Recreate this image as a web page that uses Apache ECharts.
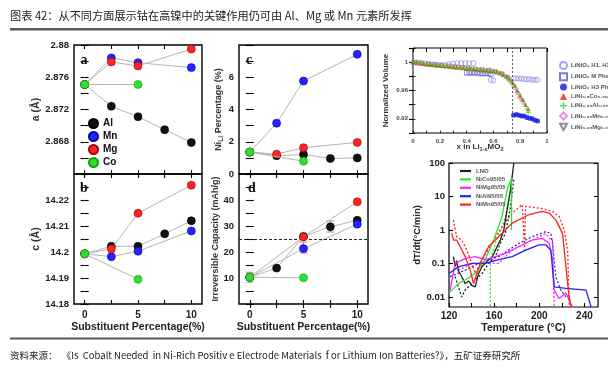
<!DOCTYPE html>
<html><head><meta charset="utf-8">
<script src="https://cdn.jsdelivr.net/npm/echarts@6/dist/echarts.min.js"></script>
<style>html,body{margin:0;padding:0;background:#fff}#c{width:608px;height:371px}</style>
</head><body><div id="c"></div>
<script>
// ---------- data ----------
const substTicks = [0, 2.5, 5, 7.5, 10];
const substLabels = [0, 5, 10];
// panel a: lattice parameter a (Å)
const aAl = [[0,2.8751],[2.5,2.8724],[5,2.8711],[7.5,2.8695],[10,2.8679]];
const aMn = [[0,2.8751],[2.5,2.8784],[5,2.8778],[10,2.8772]];
const aMg = [[0,2.8751],[2.5,2.8779],[5,2.8774],[10,2.8795]];
const aCo = [[0,2.8751],[5,2.8751]];
// panel b: lattice parameter c (Å)
const bAl = [[0,14.1993],[2.5,14.2022],[5,14.2022],[7.5,14.207],[10,14.212]];
const bMn = [[0,14.1993],[2.5,14.1982],[5,14.2003],[10,14.2081]];
const bMg = [[0,14.1993],[2.5,14.2012],[5,14.2149],[10,14.2257]];
const bCo = [[0,14.1993],[5,14.1895]];
// panel c: Ni_Li percentage (%)
const cAl = [[0,1.36],[2.5,1.13],[5,1.21],[7.5,0.96],[10,1.0]];
const cMn = [[0,1.36],[2.5,3.15],[5,5.77],[10,7.42]];
const cMg = [[0,1.36],[2.5,1.23],[5,1.63],[10,1.96]];
const cCo = [[0,1.36],[5,0.79]];
// panel d: irreversible capacity (mAh/g)
const dAl = [[0,10.3],[2.5,13.8],[5,26.0],[7.5,29.7],[10,32.2]];
const dMn = [[0,10.3],[5,21.3],[10,30.7]];
const dMg = [[0,10.3],[5,25.8],[10,39.3]];
const dCo = [[0,10.3],[5,10.1]];
const dErr = [[0,8.4,12.2],[5,19.6,23.8],[7.5,27.7,31.9]];
const dRef = 25;
// panel e: normalized volume vs x in Li(1-x)MO2
const eH12 = [[0,1.0],[0.03,0.9995],[0.06,0.999],[0.09,0.998],[0.12,0.997],[0.15,0.997],[0.18,0.996],[0.21,0.996],[0.24,0.996],[0.27,0.997],[0.30,0.998],[0.33,0.9985],[0.36,0.9985],[0.39,0.9985],[0.42,0.9985],[0.45,0.9985],[0.58,0.975],[0.60,0.974],[0.75,0.977],[0.77,0.977],[0.79,0.977],[0.81,0.977],[0.83,0.976],[0.85,0.976],[0.87,0.976],[0.89,0.975],[0.91,0.975],[0.93,0.975]];
const eM = [[0.40,0.985],[0.42,0.985],[0.44,0.985],[0.46,0.985],[0.48,0.985],[0.50,0.984],[0.52,0.984],[0.54,0.984],[0.56,0.984],[0.58,0.983]];
const eH3 = [[0.75,0.925],[0.77,0.926],[0.79,0.925],[0.81,0.924],[0.83,0.924],[0.85,0.922],[0.87,0.921],[0.89,0.920],[0.91,0.918],[0.93,0.917]];
const eNCA = [[0,1.0],[0.025,0.9995],[0.05,0.999],[0.075,0.998],[0.1,0.9975],[0.125,0.997],[0.15,0.9965],[0.175,0.996],[0.2,0.9955],[0.225,0.995],[0.25,0.9945],[0.275,0.994],[0.3,0.9935],[0.325,0.993],[0.35,0.9925],[0.375,0.992],[0.4,0.9915],[0.425,0.991],[0.45,0.9905],[0.475,0.990],[0.5,0.9895],[0.525,0.989],[0.55,0.9885],[0.575,0.988],[0.6,0.9875],[0.625,0.9865],[0.65,0.985],[0.675,0.983],[0.7,0.980],[0.72,0.977],[0.74,0.973],[0.76,0.967],[0.78,0.960],[0.80,0.953],[0.82,0.947],[0.84,0.940],[0.86,0.934]];
const eNA = [[0.01,0.9995],[0.035,0.999],[0.06,0.998],[0.085,0.9975],[0.11,0.997],[0.135,0.9965],[0.16,0.996],[0.185,0.9955],[0.21,0.995],[0.235,0.994],[0.26,0.9935],[0.285,0.993],[0.31,0.9925],[0.335,0.992],[0.36,0.9915],[0.385,0.991],[0.41,0.9905],[0.435,0.990],[0.46,0.9895],[0.485,0.989],[0.51,0.9885],[0.535,0.988],[0.56,0.9875],[0.585,0.987],[0.61,0.986],[0.635,0.9845],[0.66,0.983],[0.685,0.980],[0.71,0.977],[0.73,0.973],[0.75,0.968],[0.77,0.962],[0.79,0.955],[0.81,0.948],[0.83,0.941],[0.85,0.934],[0.86,0.929]];
const eNM = [[0.02,0.999],[0.045,0.9985],[0.07,0.998],[0.095,0.9975],[0.12,0.997],[0.145,0.9965],[0.17,0.996],[0.195,0.9955],[0.22,0.995],[0.245,0.9945],[0.27,0.994],[0.295,0.9935],[0.32,0.993],[0.345,0.9925],[0.37,0.992],[0.395,0.9915],[0.42,0.991],[0.445,0.990],[0.47,0.9895],[0.495,0.989],[0.52,0.9885],[0.545,0.988],[0.57,0.9875],[0.595,0.987],[0.62,0.986],[0.645,0.984],[0.67,0.982],[0.695,0.979],[0.715,0.975],[0.735,0.970],[0.755,0.964],[0.775,0.957],[0.795,0.950],[0.815,0.945]];
const eNMg = [[0.015,0.9993],[0.065,0.998],[0.115,0.997],[0.165,0.996],[0.215,0.995],[0.265,0.994],[0.315,0.993],[0.365,0.992],[0.415,0.991],[0.465,0.990],[0.515,0.989],[0.565,0.988],[0.615,0.986],[0.665,0.983],[0.705,0.978]];
const eSplit = 0.74;
// panel f: dT/dt (°C/min) vs temperature (°C)
const fLNO = [[123.9,0.16],[125.4,0.08],[126.8,0.12],[128.3,0.06],[131.3,0.04],[134.3,0.025],[137.3,0.03],[140.2,0.022],[143.2,0.02],[146.2,0.05],[149.2,0.08],[155.1,0.13],[158.1,0.15],[161.1,0.25],[165.5,0.5],[168.5,1.0],[171.5,4.0],[174.5,15.9],[177.4,100]];
const fLNOd = [[125.4,0.04],[128.3,0.02],[131.3,0.01],[134.3,0.016],[137.3,0.02],[140.2,0.025],[143.2,0.032],[149.2,0.05],[155.1,0.1],[161.1,0.16],[165.5,0.4],[170,0.79],[174.5,5.06],[177.4,31.7]];
const fCo = [[120,0.013],[125.4,0.02],[128.3,0.025],[134.3,0.032],[143.2,0.05],[152.1,0.13],[159.6,0.5],[167,2.54],[171.5,15.9],[175.4,35.6],[175.4,1.0]];
const fCod = [[156.6,0.004],[156.6,0.13],[161.1,0.4],[167,1.28],[170,2.54],[174.5,15.9],[176,40],[177,63]];
const fMg = [[121,0.016],[125.4,0.1],[134.3,0.14],[143.2,0.16],[152.1,0.13],[161.1,0.16],[170,0.2],[181.9,0.32],[193.8,0.5],[202.7,0.56],[208.7,0.4],[211.7,0.13],[213.2,0.016],[217.6,0.0089],[223.6,0.013],[229.5,0.005]];
const fMgd = [[128.3,0.063],[140.2,0.1],[152.1,0.1],[164,0.1],[176,0.25],[187.9,0.4],[199.8,0.63],[205.7,0.79],[208.7,0.56],[211.7,0.5],[213.2,0.004]];
const fAl = [[120,0.05],[128.3,0.079],[140.2,0.1],[152.1,0.1],[164,0.13],[176,0.16],[187.9,0.25],[199.8,0.36],[205.7,0.36],[210.2,0.25],[213.2,0.02],[223.6,0.018],[241.4,0.016],[245.9,0.005]];
const fAld = [[121,0.04],[134.3,0.063],[146.2,0.1],[164,0.16],[181.9,0.4],[193.8,0.63],[205.7,0.89],[210.2,0.79],[211.7,0.4],[214.6,0.04],[219.1,0.016],[223.6,0.01]];
const fMn = [[122.4,0.8],[123.9,0.5],[126.8,0.5],[129.8,0.32],[134.3,0.16],[138.8,0.063],[141.7,0.025],[144.7,0.05],[149.2,0.13],[155.1,0.32],[164,0.63],[176,1.6],[190.8,2.85],[202.7,3.6],[208.7,3.2],[214.6,2.0],[220.6,0.79],[223.6,0.079],[226,0.013],[228,0.005]];
const fMnd = [[123.9,2.0],[126.8,0.63],[131.3,0.5],[135.8,0.25],[140.2,0.1],[143.2,0.05],[149.2,0.13],[158.1,0.4],[167,1.28],[176,3.2],[184.9,5.7],[187,0.25],[187.9,5.06],[199.8,4.5],[211.7,3.6],[217.6,2.54],[222.1,1.0],[225.1,0.25],[226.5,0.005]];

// ---------- helpers ----------
const FONT = '"Liberation Sans", Arial, sans-serif';
const COL = {Al:'#111111', Mn:'#2424ff', Mg:'#ff2424', Co:'#2ee02e'};
const EDGE = {Al:'#000', Mn:'#0000a0', Mg:'#a00000', Co:'#10a010'};
const grids = [
  {left:74, top:45, width:128, height:129},
  {left:74, top:174, width:128, height:130},
  {left:239, top:45, width:129, height:129},
  {left:239, top:174, width:129, height:130},
  {left:413, top:48, width:134, height:85},
  {left:449, top:163, width:149, height:144}
].map(g => Object.assign({show:true, borderColor:'#000', borderWidth:1.4, backgroundColor:'transparent'}, g));
grids[4].borderWidth = 1; grids[5].borderWidth = 1.2;

const tickStyle = {color:'#000', width:1.1};
function pctX(gi, showLabels, name) {
  return {type:'value', gridIndex:gi, min:-1, max:11, position:'bottom',
    axisLine:{show:false}, splitLine:{show:false},
    axisTick:{show:true, inside:true, length:4, customValues:substTicks, lineStyle:tickStyle},
    axisLabel:{show:showLabels, customValues:substLabels, fontFamily:FONT, fontWeight:'bold', fontSize:10, color:'#222', margin:6},
    name:name||'', nameLocation:'middle', nameGap:18,
    nameTextStyle:{fontFamily:FONT, fontWeight:'bold', fontSize:10.5, color:'#222'}};
}
function mirrorX(gi, min, max, ticks) {
  return {type:'value', gridIndex:gi, min, max, position:'top',
    axisLine:{show:false}, splitLine:{show:false}, axisLabel:{show:false},
    axisTick:{show:true, inside:true, length:4, customValues:ticks, lineStyle:tickStyle}};
}
function mirrorY(gi, min, max, ticks) {
  return {type:'value', gridIndex:gi, min, max, position:'right',
    axisLine:{show:false}, splitLine:{show:false}, axisLabel:{show:false},
    axisTick:{show:true, inside:true, length:4, customValues:ticks, lineStyle:tickStyle}};
}
function valY(gi, min, max, ticks, labels, name, gap, nameSize) {
  return {type:'value', gridIndex:gi, min, max,
    axisLine:{show:false}, splitLine:{show:false},
    axisTick:{show:true, inside:true, length:4, customValues:ticks, lineStyle:tickStyle},
    axisLabel:{customValues:labels, fontFamily:FONT, fontWeight:'bold', fontSize:9.5, color:'#222', margin:5},
    name, nameLocation:'middle', nameGap:gap, nameRotate:90,
    nameTextStyle:{fontFamily:FONT, fontWeight:'bold', fontSize:nameSize||10.5, color:'#333',
      rich:{n:{fontFamily:FONT, fontWeight:'bold', fontSize:nameSize||10.5, color:'#333'},
            s:{fontFamily:FONT, fontWeight:'bold', fontSize:6.5, color:'#333', padding:[5,0,0,0]}}}};
}
function pts(name, data, ai, z) {
  return {type:'line', name, xAxisIndex:ai, yAxisIndex:ai, data, symbol:'circle', symbolSize:8,
    itemStyle:{color:COL[name], borderColor:EDGE[name], borderWidth:0.6},
    lineStyle:{color:'#b5b5b5', width:1}, z:z, animation:false};
}
function range(a, b, s) { const r = []; for (let v = a; v <= b + 1e-9; v += s) r.push(+v.toFixed(4)); return r; }

const xAxes = [
  pctX(0, false), pctX(1, true, 'Substituent Percentage(%)'),
  pctX(2, false), pctX(3, true, 'Substituent Percentage(%)'),
  {type:'value', gridIndex:4, min:0, max:1, axisLine:{show:false}, splitLine:{show:false},
   axisTick:{inside:true, length:2.5, customValues:range(0,1,0.1), lineStyle:{color:'#000', width:0.8}},
   axisLabel:{customValues:[0,0.2,0.4,0.6,0.8,1], fontFamily:FONT, fontWeight:'bold', fontSize:6, color:'#444', margin:5}},
  {type:'value', gridIndex:5, min:120, max:252, axisLine:{show:false}, splitLine:{show:false},
   axisTick:{inside:true, length:4, customValues:[120,140,160,180,200,220,240], lineStyle:tickStyle},
   axisLabel:{customValues:[120,160,200,240], fontFamily:FONT, fontWeight:'bold', fontSize:10, color:'#222', margin:4},
   name:'Temperature (°C)', nameLocation:'middle', nameGap:16,
   nameTextStyle:{fontFamily:FONT, fontWeight:'bold', fontSize:10.5, color:'#222'}},
  mirrorX(0,-1,11,substTicks), mirrorX(1,-1,11,substTicks), mirrorX(2,-1,11,substTicks), mirrorX(3,-1,11,substTicks),
  mirrorX(4,0,1,range(0,1,0.1))
];
const yAxes = [
  valY(0, 2.864, 2.88, range(2.864,2.88,0.002), [2.868,2.872,2.876,2.88], 'a (Å)', 30),
  valY(1, 14.18, 14.23, range(14.18,14.23,0.005), [14.18,14.19,14.2,14.21,14.22], 'c (Å)', 30),
  valY(2, 0, 8, range(0,8,1), [0,2,4,6], '{n|Ni}{s|Li}{n| Percentage (%)}', 14, 9),
  valY(3, 0, 50, range(0,50,5), [10,20,30,40], 'Irreversible Capacity (mAh/g)', 16, 9),
  {type:'value', gridIndex:4, min:0.9, max:1.02, axisLine:{show:false}, splitLine:{show:false},
   axisTick:{inside:true, length:2.5, customValues:range(0.9,1.02,0.02), lineStyle:{color:'#000', width:0.8}},
   axisLabel:{customValues:[0.92,0.96,1], fontFamily:FONT, fontWeight:'bold', fontSize:6, color:'#444', margin:5},
   name:'Normalized Volume', nameLocation:'middle', nameGap:23, nameRotate:90,
   nameTextStyle:{fontFamily:FONT, fontWeight:'bold', fontSize:8, color:'#333'}},
  {type:'log', gridIndex:5, min:0.005, max:100, logBase:10, axisLine:{show:false}, splitLine:{show:false},
   axisTick:{inside:true, length:4, customValues:[0.01,0.1,1,10,100], lineStyle:tickStyle},
   axisLabel:{customValues:[0.01,0.1,1,10,100], fontFamily:FONT, fontWeight:'bold', fontSize:9.5, color:'#222', margin:4,
     formatter: v => String(+(+v).toPrecision(3))},
   name:'dT/dt(°C/min)', nameLocation:'middle', nameGap:17, nameRotate:90,
   nameTextStyle:{fontFamily:FONT, fontWeight:'bold', fontSize:9.5, color:'#222'}},
  mirrorY(0,2.864,2.88,range(2.864,2.88,0.002)), mirrorY(1,14.18,14.23,range(14.18,14.23,0.005)),
  mirrorY(2,0,8,range(0,8,1)), mirrorY(3,0,50,range(0,50,5)),
  mirrorY(4,0.9,1.02,range(0.9,1.02,0.02)), mirrorY(5,0.005,100,[])
];
yAxes[yAxes.length-1].type = 'log';
yAxes[yAxes.length-1].axisTick = {show:true, inside:true, length:4, customValues:[0.01,0.1,1,10,100], lineStyle:tickStyle};

const series = [];
[[aAl,aMn,aMg,aCo],[bAl,bMn,bMg,bCo],[cAl,cMn,cMg,cCo],[dAl,dMn,dMg,dCo]].forEach((set, i) => {
  series.push(pts('Al', set[0], i, 3), pts('Mn', set[1], i, 4), pts('Mg', set[2], i, 5), pts('Co', set[3], i, 6));
});
// error bars and reference line in panel d
series.push({type:'custom', xAxisIndex:3, yAxisIndex:3, data:dErr, z:2, animation:false, silent:true,
  renderItem:(p, api) => {
    const x = api.value(0), lo = api.coord([x, api.value(1)]), hi = api.coord([x, api.value(2)]);
    const st = {stroke:'#9a9a9a', lineWidth:1};
    return {type:'group', children:[
      {type:'line', shape:{x1:lo[0], y1:lo[1], x2:hi[0], y2:hi[1]}, style:st},
      {type:'line', shape:{x1:lo[0]-4, y1:lo[1], x2:lo[0]+4, y2:lo[1]}, style:st},
      {type:'line', shape:{x1:hi[0]-4, y1:hi[1], x2:hi[0]+4, y2:hi[1]}, style:st}]};
  }});
series.push({type:'line', xAxisIndex:3, yAxisIndex:3, data:[], silent:true,
  markLine:{symbol:'none', silent:true, animation:false, label:{show:false},
    lineStyle:{color:'#222', type:[3,2], width:1.1}, data:[{yAxis:dRef}]}});

// panel e scatter series
const eStyle = (name, data, symbol, color, filled, size, z) => ({type:'scatter', name, xAxisIndex:4, yAxisIndex:4, data, symbol,
  symbolSize:size||4.5, z:z||3, animation:false,
  itemStyle: filled ? {color} : {color:'rgba(255,255,255,0)', borderColor:color, borderWidth:0.9}});
const PLUS = 'path://M4,0H6V4H10V6H6V10H4V6H0V4H4Z';
const INVTRI = 'path://M0,0L10,0L5,9Z';
series.push(
  eStyle('LiNiO₂ H1, H2 Phases', eH12, 'circle', '#8c8ce6', false, 5, 2),
  eStyle('LiNiO₂ M Phase', eM, 'rect', '#5a5ad8', false, 4.5, 2),
  eStyle('LiNiO₂ H3 Phase', eH3, 'circle', '#1414e6', true, 5, 5),
  eStyle('LiNi₀.₈Co₀.₁₅Al₀.₀₅O₂', eNCA, 'triangle', '#ff1a1a', true, 4.5, 4),
  eStyle('LiNi₀.₉₅Al₀.₀₅O₂', eNA, PLUS, '#22dd22', true, 5, 4),
  eStyle('LiNi₀.₉₅Mn₀.₀₅O₂', eNM, 'diamond', '#e07ae0', false, 5, 3),
  eStyle('LiNi₀.₉₅Mg₀.₀₅O₂', eNMg, INVTRI, '#777777', false, 4.5, 1)
);
series.push({type:'line', xAxisIndex:4, yAxisIndex:4, data:[], silent:true,
  markLine:{symbol:'none', silent:true, animation:false, label:{show:false},
    lineStyle:{color:'#333', type:[2,2], width:0.8}, data:[{xAxis:eSplit}]}});

// panel f lines
const fLine = (name, data, color, dashed) => ({type:'line', name: dashed ? undefined : name, xAxisIndex:5, yAxisIndex:5, data,
  showSymbol:false, symbol:'none', animation:false, clip:true, itemStyle:{color},
  lineStyle:{color, width:1.3, type: dashed ? [2,2] : 'solid'}, z: dashed ? 2 : 3});
series.push(
  fLine('LNO', fLNO, '#222222'), fLine('', fLNOd, '#222222', true),
  fLine('NiCo95/05', fCo, '#2ee02e'), fLine('', fCod, '#2ee02e', true),
  fLine('NiMg95/05', fMg, '#ff22ff'), fLine('', fMgd, '#ff22ff', true),
  fLine('NiAl95/05', fAl, '#2424ee'), fLine('', fAld, '#2424ee', true),
  fLine('NiMn95/05', fMn, '#ff2020'), fLine('', fMnd, '#ff2020', true)
);

const legends = [
  {data:['Al','Mn','Mg','Co'], orient:'vertical', left:83, top:113, icon:'circle', itemWidth:9, itemHeight:9, itemGap:2,
   textStyle:{fontFamily:FONT, fontWeight:'bold', fontSize:10, color:'#111'}, selectedMode:false},
  {data:['LiNiO₂ H1, H2 Phases','LiNiO₂ M Phase','LiNiO₂ H3 Phase','LiNi₀.₈Co₀.₁₅Al₀.₀₅O₂','LiNi₀.₉₅Al₀.₀₅O₂','LiNi₀.₉₅Mn₀.₀₅O₂','LiNi₀.₉₅Mg₀.₀₅O₂'],
   orient:'vertical', left:554, top:56, itemWidth:7, itemHeight:7, itemGap:2.3, selectedMode:false,
   textStyle:{fontFamily:FONT, fontWeight:'bold', fontSize:6, color:'#555', padding:[0,0,0,-1]}},
  {data:['LNO','NiCo95/05','NiMg95/05','NiAl95/05','NiMn95/05'], orient:'vertical', left:455, top:163,
   itemWidth:11, itemHeight:5, itemGap:2.4, icon:'path://M0,4H10V6H0Z', selectedMode:false,
   textStyle:{fontFamily:FONT, fontWeight:'bold', fontSize:6, color:'#555'}}
];

const letter = (t, x, y) => ({type:'text', x, y, style:{text:t, font:'bold 14px "Liberation Serif", "Times New Roman", serif', fill:'#111', textAlign:'center', textVerticalAlign:'middle'}, z:100});
const graphic = [
  {type:'text', left:10, top:10, style:{text:'图表 42：从不同方面展示钴在高镍中的关键作用仍可由 Al、Mg 或 Mn 元素所发挥', font:'11.2px "Noto Sans CJK SC", sans-serif', fill:'#222'}},
  {type:'rect', shape:{x:10, y:28, width:598, height:2.5}, style:{fill:'#5a5a5a'}},
  {type:'rect', shape:{x:10, y:337.5, width:598, height:2}, style:{fill:'#5a5a5a'}},
  {type:'text', left:10, top:351, style:{text:'资料来源：  《Is  Cobalt Needed  in Ni-Rich Positiv e Electrode Materials  f or Lithium Ion Batteries?》，五矿证券研究所', font:'9.5px "Noto Sans CJK SC", sans-serif', fill:'#222'}},
  letter('a', 84, 60), letter('b', 84, 188), letter('c', 249, 60), letter('d', 252, 188),
  {type:'text', x:480, y:147, style:{text:'{n|x in Li}{s|1-x}{n|MO}{s|2}', textAlign:'center', textVerticalAlign:'middle',
    rich:{n:{font:'bold 8px "Liberation Sans", Arial', fill:'#333'}, s:{font:'bold 5.5px "Liberation Sans", Arial', fill:'#333', padding:[4,0,0,0]}}}}
];

const chart = echarts.init(document.getElementById('c'), null, {renderer:'canvas'});
chart.setOption({animation:false, backgroundColor:'#fff', grid:grids, xAxis:xAxes, yAxis:yAxes, series, legend:legends, graphic});
</script></body></html>
